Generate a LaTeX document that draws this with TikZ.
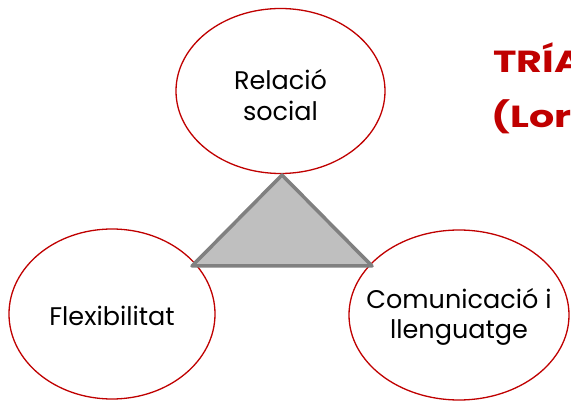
\documentclass[tikz,border=0pt]{standalone}
\usepackage{fontspec}
\setmainfont{Poppins}
\usetikzlibrary{shapes.geometric}
\definecolor{ringred}{HTML}{C00000}
\definecolor{trifill}{HTML}{BFBFBF}
\definecolor{triline}{HTML}{808080}
\begin{document}
\begin{tikzpicture}[x=1pt,y=1pt,
  bubble/.style={ellipse, draw=ringred, line width=1.3pt, fill=white, inner sep=0pt},
  bubbletext/.style={align=center, inner sep=0pt, font=\fontsize{25.5}{30.5}\selectfont, text=black},
  titletext/.style={anchor=base west, inner sep=0pt, text=ringred, xscale=1.3, transform shape,
    font=\fontsize{30.5}{36}\bfseries\selectfont}]
\useasboundingbox (0,0) rectangle (571,402);
\clip (0,0) rectangle (571,402);
\fill[white] (0,0) rectangle (571,402);
\node[bubble, minimum width=209pt, minimum height=165pt] (rel) at (280.5,311) {};
\node[bubble, minimum width=206pt, minimum height=170pt] (flex) at (112,88) {};
\node[bubble, minimum width=220pt, minimum height=170pt] (com) at (459,87) {};
\node[bubbletext] (relt) at ([yshift=-4pt]rel.center) {Relació\\social};
\node[bubbletext] (flext) at ([yshift=-2pt]flex.center) {Flexibilitat};
\node[bubbletext] (comt) at ([yshift=-2pt]com.center) {Comunicació i\\llenguatge};
\coordinate (apex) at (282,227);
\coordinate (bl) at (192,136);
\coordinate (br) at (372,136);
\draw[triline, fill=trifill, line width=3.5pt, line join=round] (apex) -- (bl) -- (br) -- cycle;
\node[titletext] (t1) at (493,329) {TRÍADA};
\node[titletext] (t2) at (491,274) {(Lorna Wing)};
\end{tikzpicture}
\end{document}
